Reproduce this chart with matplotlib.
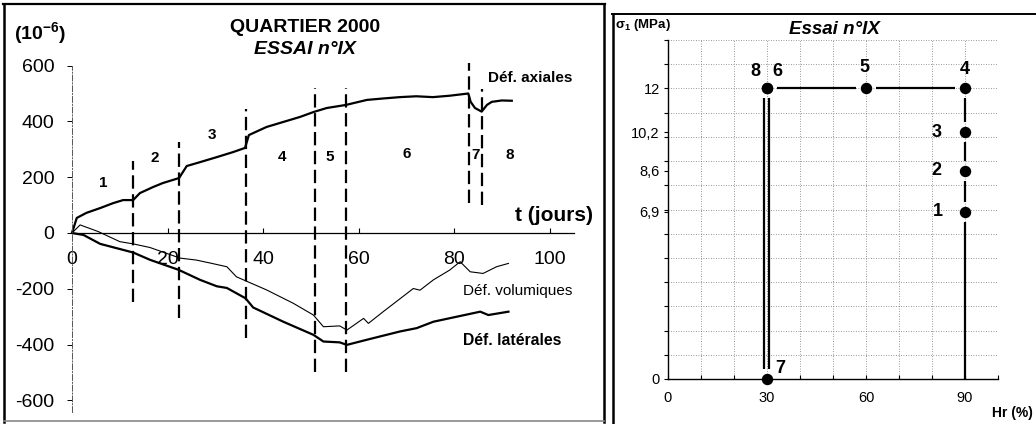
import matplotlib
matplotlib.use('Agg')
import matplotlib.pyplot as plt
import numpy as np
from matplotlib.lines import Line2D

plt.rcParams['font.family'] = ['Liberation Sans', 'DejaVu Sans']
plt.rcParams['mathtext.default'] = 'regular'

# ---------------- Left panel data (strains, 1e-6) ----------------
t_axial = [0, 1, 3, 6, 8.6, 10.7, 12.8, 14.2, 17, 19, 22.4, 24, 26.8, 30.3, 33.7,
           36.2, 37, 40.7, 44.2, 47.7, 50.6, 53.3, 57.3, 61.7, 65, 68.6, 72, 75.5,
           79, 82.9, 83.4, 84.3, 85.7, 86.8, 87.8, 89.9, 92]
def_axial = [0, 54, 72, 90, 107, 118, 118, 143, 165, 179, 197, 240, 254, 272, 290,
             305, 351, 380, 398, 416, 434, 448, 459, 477, 482, 487, 490, 487,
             492, 500, 470, 448, 435, 459, 470, 475, 474]

t_vol = [0, 1.7, 5.5, 10, 12.8, 16.3, 19.8, 22.6, 26, 29, 32.4, 34.4, 40.7, 46.3,
         50.5, 52.6, 56, 57.5, 61, 62, 65.1, 71.4, 72.8, 75.6, 79, 81.2, 83.3,
         86, 88.8, 91.3]
def_vol = [0, 29, 5, -31, -39, -52, -73, -90, -97, -108, -121, -157, -204, -252,
           -294, -336, -333, -348, -306, -324, -282, -199, -205, -168, -133, -103,
           -139, -145, -121, -109]

t_lat = [0, 2.4, 5.9, 12.8, 16.3, 22.3, 26.8, 30.3, 32.4, 36.3, 37.9, 44.2, 50.5,
         52.6, 56, 57.5, 61.6, 68.6, 72.1, 75.6, 80.5, 85.4, 87.1, 91.3]
def_lat = [0, -7, -39, -70, -96, -132, -168, -191, -197, -234, -267, -318, -365,
           -389, -392, -401, -383, -353, -341, -318, -300, -282, -294, -282]

phase_bounds = [12.8, 22.3, 36.3, 50.8, 57.4, 83.1, 85.8]
bound_top = [259, 325, 446, 518, 518, 610, 515]
bound_bottom = [-246, -306, -377, -497, -497, 107, 100]

zone_names = ['1', '2', '3', '4', '5', '6', '7', '8']
zone_t = [6.5, 17.4, 29.3, 43.9, 54, 70.1, 84.5, 91.5]
zone_v = [179, 269, 351, 272, 272, 283, 280, 280]

x_ticks_left = [0, 20, 40, 60, 80, 100]
y_ticks_left = [-600, -400, -200, 0, 200, 400, 600]

# ---------------- Right panel data ----------------
phase_labels = ['1', '2', '3', '4', '5', '6', '7', '8']
hr = [90, 90, 90, 90, 60, 30, 30, 30]
sigma1 = [6.9, 8.6, 10.2, 12, 12, 12, 0, 12]
hr_start, sigma_start = 90, 0
x_ticks_right = [0, 30, 60, 90]
y_ticks_right = [0, 6.9, 8.6, 10.2, 12]
y_ticklabels_right = ['0', '6,9', '8,6', '10,2', '12']
grid_hr = list(range(10, 101, 10))
grid_sigma = list(range(1, 15))

W, H = 1036, 424
fig = plt.figure(figsize=(W / 100, H / 100), dpi=100)


def fx(px):
    return px / W


def fy(py):
    return 1 - py / H


# ================= LEFT PANEL =================
ax1 = fig.add_axes([0, 0, 607.4 / W, 1])
ax1.set_xlim(-15.06, 112.0)
ax1.set_ylim(-684.6, 835.1)
ax1.patch.set_visible(False)
for s in ['top', 'right']:
    ax1.spines[s].set_visible(False)
ax1.spines['left'].set_position(('data', 0))
ax1.spines['left'].set_bounds(-640, 600)
ax1.spines['left'].set_linestyle((0, (6, 2, 1, 2)))
ax1.spines['left'].set_color('#555555')
ax1.spines['left'].set_linewidth(0.7)
ax1.spines['bottom'].set_position(('data', 0))
ax1.spines['bottom'].set_bounds(0, 105)
ax1.spines['bottom'].set_linewidth(0.9)

ax1.set_xticks(x_ticks_left)
ax1.set_xticklabels([str(v) for v in x_ticks_left])
ax1.set_yticks(y_ticks_left)
ax1.set_yticklabels([str(v) for v in y_ticks_left])
ax1.tick_params(axis='x', direction='in', length=3.6, width=0.8, pad=13, labelsize=14)
ax1.tick_params(axis='y', direction='out', length=3.6, width=0.7, pad=9, labelsize=14)

ax1.plot(t_axial, def_axial, color='k', lw=1.6)
ax1.plot(t_vol, def_vol, color='k', lw=0.8)
ax1.plot(t_lat, def_lat, color='k', lw=1.6)
ax1.vlines(phase_bounds, bound_bottom, bound_top, colors='k',
           linestyles=(0, (6, 2.5)), lw=1.6)

for name, t, v in zip(zone_names, zone_t, zone_v):
    ax1.text(t, v, name, ha='center', va='center', fontsize=11, fontweight='bold')

ax1.text(87.0, 556, 'Déf. axiales', ha='left', va='center', fontsize=11, fontweight='bold')
ax1.text(109.0, 64, 't (jours)', ha='right', va='center', fontsize=15, fontweight='bold')
ax1.text(81.8, -208, 'Déf. volumiques', ha='left', va='center', fontsize=11)
ax1.text(81.8, -387, 'Déf. latérales', ha='left', va='center', fontsize=11.3, fontweight='bold')

fig.text(fx(305), fy(28), 'QUARTIER 2000', ha='center', va='center',
         fontsize=14, fontweight='bold')
fig.text(fx(305), fy(49), 'ESSAI n°IX', ha='center', va='center',
         fontsize=14, fontweight='bold', fontstyle='italic')
fig.text(fx(40), fy(33), r'(10$^{-6}$)', ha='center', va='center',
         fontsize=14, fontweight='bold')

# frame of left panel
fig.add_artist(Line2D([fx(3), fx(605)], [fy(4), fy(4)], color='k', lw=1.6))
fig.add_artist(Line2D([fx(4), fx(4)], [fy(4), fy(422)], color='k', lw=1.8))
fig.add_artist(Line2D([fx(604), fx(604)], [fy(4), fy(422)], color='k', lw=1.8))
fig.add_artist(Line2D([fx(4), fx(604)], [fy(421), fy(421)], color='#888888', lw=1.2))

# ================= RIGHT PANEL =================
ax2 = fig.add_axes([668 / W, 1 - 379 / H, 330 / W, 339 / H])
ax2.set_xlim(0, 100)
ax2.set_ylim(0, 14)
ax2.patch.set_visible(False)
for s in ['top', 'right']:
    ax2.spines[s].set_visible(False)
ax2.spines['left'].set_linewidth(1.0)
ax2.spines['bottom'].set_linewidth(1.0)

for g in grid_hr:
    ax2.axvline(g, color='#777777', lw=0.6, ls=(0, (1, 2)), zorder=0)
for g in grid_sigma:
    ax2.axhline(g, color='#777777', lw=0.6, ls=(0, (1, 2)), zorder=0)

ax2.set_xticks(x_ticks_right)
ax2.set_xticklabels([str(v) for v in x_ticks_right])
ax2.set_xticks(grid_hr, minor=True)
ax2.set_yticks(y_ticks_right)
ax2.set_yticklabels(y_ticklabels_right)
ax2.set_yticks(grid_sigma, minor=True)
ax2.tick_params(axis='x', which='both', direction='in', length=3, width=0.8,
                pad=9, labelsize=10.5)
ax2.tick_params(axis='y', which='both', direction='out', length=3, width=0.8,
                pad=3, labelsize=10.5)

# path segments with gaps around dots
path_hr = [hr_start] + hr
path_sig = [sigma_start] + sigma1
seg_offset_px = [0, 0, 0, 0, 0, 0, 2.4, -2.6]
gap = 10.0
trans = ax2.transData
inv = trans.inverted()
for i in range(len(path_hr) - 1):
    p0 = np.array(trans.transform((path_hr[i], path_sig[i])))
    p1 = np.array(trans.transform((path_hr[i + 1], path_sig[i + 1])))
    d = p1 - p0
    L = np.hypot(d[0], d[1])
    u = d / L
    g0 = gap if i > 0 else 0.0
    a = p0 + u * g0 + np.array([seg_offset_px[i], 0])
    b = p1 - u * gap + np.array([seg_offset_px[i], 0])
    da, db = inv.transform(a), inv.transform(b)
    ax2.plot([da[0], db[0]], [da[1], db[1]], color='k', lw=1.6,
             solid_capstyle='butt')

ax2.plot(hr, sigma1, 'o', color='k', ms=7.2, ls='none', zorder=5, clip_on=False)

label_offsets = [(-19.2, 0), (-20.4, 0), (-20.4, 0), (0, 13.9), (-1.4, 15),
                 (7.8, 12.2), (9.3, 7.7), (-8.6, 12.2)]
for lab, x, y, off in zip(phase_labels, hr, sigma1, label_offsets):
    ax2.annotate(lab, (x, y), xytext=off, textcoords='offset points',
                 ha='center', va='center', fontsize=13, fontweight='bold')

fig.text(fx(834), fy(30), 'Essai n°IX', ha='center', va='center',
         fontsize=13.5, fontweight='bold', fontstyle='italic')
fig.text(fx(615), fy(25), r'σ$_1$ (MPa)', ha='left', va='center',
         fontsize=9.5, fontweight='bold')
fig.text(fx(992), fy(413), 'Hr (%)', ha='left', va='center',
         fontsize=10, fontweight='bold')

# frame of right panel
fig.add_artist(Line2D([fx(612), fx(1036)], [fy(14), fy(14)], color='k', lw=1.4))
fig.add_artist(Line2D([fx(613), fx(613)], [fy(14), fy(424)], color='k', lw=1.8))

fig.savefig('out.png', dpi=100)
